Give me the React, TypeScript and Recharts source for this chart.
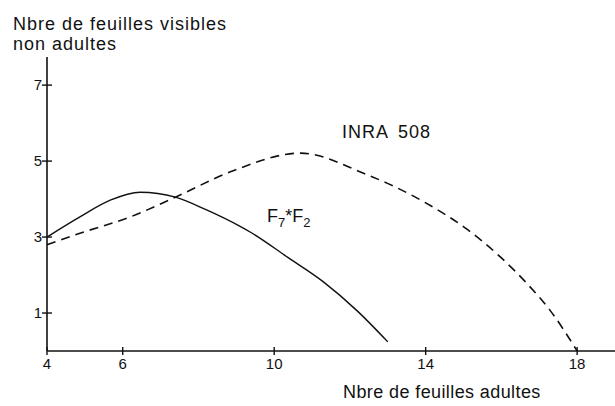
import { LineChart, Line, XAxis, YAxis } from 'recharts';

// axis ticks
const xTicks = [4, 6, 10, 14, 18];
const yTicks = [1, 3, 5, 7];

// F7*F2 (solid)
const f7f2X = [4, 4.87, 5.67, 6.46, 7.39, 8.2, 9.1, 9.42, 10.35, 11.3, 12.2, 13.0];
const f7f2Y = [3.0, 3.53, 3.97, 4.18, 4.05, 3.72, 3.28, 3.1, 2.47, 1.82, 1.05, 0.24];

// INRA 508 (dashed)
const inraX = [4, 4.87, 6.2, 7.39, 8.9, 10.7, 12.36, 14.0, 15.1, 16.0, 16.7, 17.3, 18.0];
const inraY = [2.8, 3.1, 3.53, 4.05, 4.74, 5.21, 4.68, 3.9, 3.2, 2.45, 1.75, 1.05, 0];

const f7f2Data = f7f2X.map((x, i) => ({ x, y: f7f2Y[i] }));
const inraData = inraX.map((x, i) => ({ x, y: inraY[i] }));

const INK = '#111';
const FONT = '"Liberation Sans", Arial, sans-serif';

const XTick = (props: any) => {
  const { x, y, payload } = props;
  return (
    <g>
      <line x1={x} x2={x} y1={y - 4} y2={y + 4} stroke={INK} strokeWidth={1.4} />
      <text x={x} y={y + 18} textAnchor="middle" fontSize={15} fontFamily={FONT} fill={INK}>
        {payload.value}
      </text>
    </g>
  );
};

const YTick = (props: any) => {
  const { x, y, payload } = props;
  return (
    <g>
      <line x1={x - 5} x2={x + 5} y1={y} y2={y} stroke={INK} strokeWidth={1.4} />
      <text x={x - 5} y={y + 5} textAnchor="end" fontSize={15} fontFamily={FONT} fill={INK}>
        {payload.value}
      </text>
    </g>
  );
};

const App = () => {
  return (
    <div style={{ position: 'absolute', left: 0, top: 0, width: 615, height: 406, background: '#fff' }}>
      <LineChart width={615} height={406} margin={{ top: 57, right: 0, bottom: 25, left: 7 }}>
        <XAxis
          type="number"
          dataKey="x"
          domain={[4, 19]}
          ticks={xTicks}
          height={30}
          tickSize={0}
          tickMargin={0}
          tick={<XTick />}
          axisLine={{ stroke: INK, strokeWidth: 1.6 }}
          allowDataOverflow
        />
        <YAxis
          type="number"
          dataKey="y"
          domain={[0, 7.74]}
          ticks={yTicks}
          width={40}
          tickSize={0}
          tickMargin={0}
          tick={<YTick />}
          axisLine={{ stroke: INK, strokeWidth: 1.6 }}
          allowDataOverflow
        />
        <Line
          data={f7f2Data}
          dataKey="y"
          type="monotone"
          stroke={INK}
          strokeWidth={1.4}
          dot={false}
          isAnimationActive={false}
        />
        <Line
          data={inraData}
          dataKey="y"
          type="monotone"
          stroke={INK}
          strokeWidth={1.6}
          strokeDasharray="9 6"
          dot={false}
          isAnimationActive={false}
        />
      </LineChart>
      <svg width={615} height={406} style={{ position: 'absolute', left: 0, top: 0, pointerEvents: 'none' }}>
        <g fontFamily={FONT} fill={INK}>
          <text x={13} y={30} fontSize={18} letterSpacing={1}>Nbre de feuilles visibles</text>
          <text x={13} y={50} fontSize={18} letterSpacing={1}>non adultes</text>
          <text x={342} y={138} fontSize={18} letterSpacing={1} wordSpacing={4}>INRA 508</text>
          <text x={267} y={222} fontSize={18}>
            F<tspan fontSize={13} dy={5}>7</tspan>
            <tspan dy={-5}>*F</tspan>
            <tspan fontSize={13} dy={5}>2</tspan>
          </text>
          <text x={343} y={398} fontSize={18} letterSpacing={0.4}>Nbre de feuilles adultes</text>
        </g>
      </svg>
    </div>
  );
};

export default App;
